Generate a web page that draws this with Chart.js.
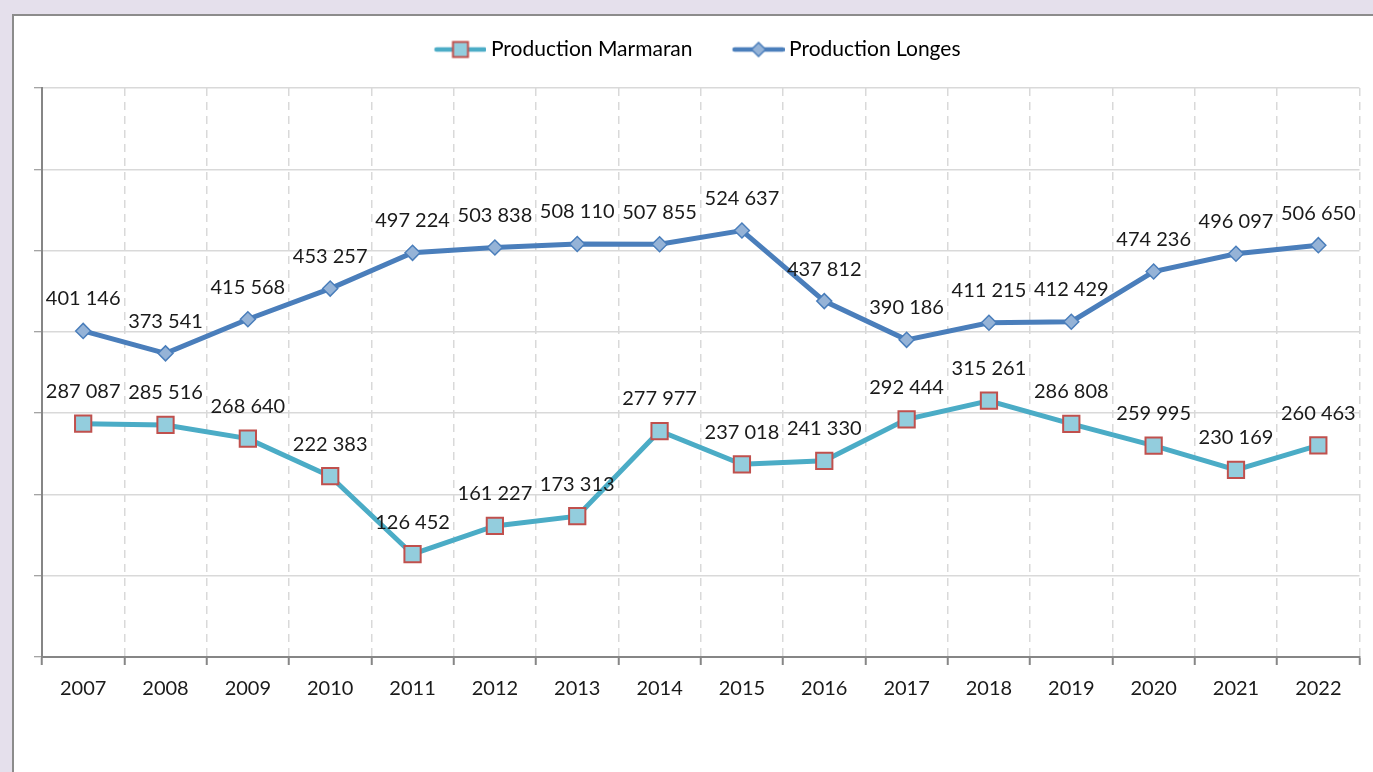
<!DOCTYPE html>
<html>
<head>
	<title>Production chart</title>
	<script src="https://cdn.jsdelivr.net/npm/chart.js"></script>
	<style>
		html, body {
			margin: 0;
			padding: 0;
			overflow: hidden;
			background: #e5e0ec;
			width: 1373px;
			height: 772px;
		}

		.frame {
			position: absolute;
			left: 12px;
			top: 14px;
			width: 1400px;
			height: 800px;
			background: #ffffff;
			border: 2px solid #8c8c8c;
		}

		#chart {
			position: absolute;
			left: 0;
			top: 0;
		}
	</style>
</head>

<body>
	<div class="frame"></div>
	<canvas id="chart" width="1373" height="772"></canvas>

	<script>
		var years = ["2007", "2008", "2009", "2010", "2011", "2012", "2013", "2014",
			"2015", "2016", "2017", "2018", "2019", "2020", "2021", "2022"];
		var marmaran = [287087, 285516, 268640, 222383, 126452, 161227, 173313, 277977,
			237018, 241330, 292444, 315261, 286808, 259995, 230169, 260463];
		var longes = [401146, 373541, 415568, 453257, 497224, 503838, 508110, 507855,
			524637, 437812, 390186, 411215, 412429, 474236, 496097, 506650];
		var seriesNames = ["Production Marmaran", "Production Longes"];

		var FONT = "Lato";

		function fmt(v) {
			return String(v).replace(/\B(?=(\d{3})+(?!\d))/g, " ");
		}

		// legend icon: a short line with the marker in the middle
		function makeIcon(lineColor, drawMarker) {
			var c = document.createElement("canvas");
			c.width = 88;
			c.height = 22;
			var g = c.getContext("2d");
			g.strokeStyle = lineColor;
			g.lineWidth = 4.5;
			g.lineCap = "round";
			g.beginPath();
			g.moveTo(38, 11);
			g.lineTo(86, 11);
			g.stroke();
			drawMarker(g, 62, 11);
			return c;
		}

		var iconMarmaran = makeIcon("#4bacc6", function (g, x, y) {
			g.fillStyle = "#93cddd";
			g.strokeStyle = "#c0504d";
			g.lineWidth = 2;
			g.fillRect(x - 7.5, y - 7.5, 15, 15);
			g.strokeRect(x - 7.5, y - 7.5, 15, 15);
		});
		var iconLonges = makeIcon("#4a7ebb", function (g, x, y) {
			g.fillStyle = "#95b3d7";
			g.strokeStyle = "#4a7ebb";
			g.lineWidth = 1.5;
			g.beginPath();
			g.moveTo(x, y - 7);
			g.lineTo(x + 7, y);
			g.lineTo(x, y + 7);
			g.lineTo(x - 7, y);
			g.closePath();
			g.fill();
			g.stroke();
		});

		// extra room under the legend
		var legendGap = {
			id: "legendGap",
			beforeInit: function (chart) {
				var fit = chart.legend.fit;
				chart.legend.fit = function () {
					fit.bind(chart.legend)();
					this.height += 18;
				};
			}
		};

		var valueLabels = {
			id: "valueLabels",
			afterDatasetsDraw: function (chart) {
				var ctx = chart.ctx;
				ctx.save();
				ctx.font = "20px " + FONT;
				ctx.fillStyle = "#1a1a1a";
				ctx.textAlign = "center";
				ctx.textBaseline = "middle";
				chart.data.datasets.forEach(function (ds, i) {
					var meta = chart.getDatasetMeta(i);
					meta.data.forEach(function (pt, j) {
						ctx.fillText(fmt(ds.data[j]), pt.x, pt.y - 32);
					});
				});
				ctx.restore();
			}
		};

		var ctx = document.getElementById("chart").getContext("2d");
		var chart = new Chart(ctx, {
			type: "line",
			data: {
				labels: years,
				datasets: [
					{
						label: seriesNames[0],
						data: marmaran,
						borderColor: "#4bacc6",
						borderWidth: 5,
						pointStyle: "rect",
						pointRadius: 11.5,
						pointBackgroundColor: "#93cddd",
						pointBorderColor: "#c0504d",
						pointBorderWidth: 2,
						tension: 0,
					},
					{
						label: seriesNames[1],
						data: longes,
						borderColor: "#4a7ebb",
						borderWidth: 5,
						pointStyle: "rectRot",
						pointRadius: 7.5,
						pointBackgroundColor: "#95b3d7",
						pointBorderColor: "#4a7ebb",
						pointBorderWidth: 1.5,
						tension: 0,
					},
				],
			},
			options: {
				responsive: false,
				animation: false,
				layout: {
					padding: { left: 4, right: 12, top: 29, bottom: 59 },
				},
				plugins: {
					tooltip: { enabled: false },
					legend: {
						position: "top",
						labels: {
							usePointStyle: true,
							pointStyleWidth: 76,
							padding: 10,
							color: "#1a1a1a",
							font: { family: FONT, size: 21 },
							generateLabels: function (chart) {
								return chart.data.datasets.map(function (ds, i) {
									return {
										text: ds.label,
										pointStyle: i === 0 ? iconMarmaran : iconLonges,
										fillStyle: ds.borderColor,
										strokeStyle: ds.borderColor,
										lineWidth: 0,
										datasetIndex: i,
										hidden: false,
									};
								});
							},
						},
					},
				},
				scales: {
					x: {
						offset: true,
						grid: {
							offset: true,
							color: "#d9d9d9",
							lineWidth: 1.5,
							tickLength: 8,
							tickColor: "#868686",
							tickWidth: 2,
							tickBorderDash: [],
						},
						border: {
							display: true,
							color: "#868686",
							width: 2,
							dash: [8, 6],
						},
						ticks: {
							color: "#1a1a1a",
							font: { family: FONT, size: 20 },
							padding: 12,
							maxRotation: 0,
						},
					},
					y: {
						min: 0,
						max: 700000,
						afterFit: function (scale) {
							scale.width = 38;
						},
						ticks: {
							stepSize: 100000,
							display: false,
						},
						grid: {
							color: function (c) {
								return c.tick && c.tick.value === 0 ? "#868686" : "#d9d9d9";
							},
							lineWidth: 1.5,
							tickLength: 8,
							tickColor: "#868686",
							tickWidth: 1,
						},
						border: {
							display: true,
							color: "#868686",
							width: 2,
						},
					},
				},
			},
			plugins: [legendGap, valueLabels],
		});
	</script>
</body>

</html>
